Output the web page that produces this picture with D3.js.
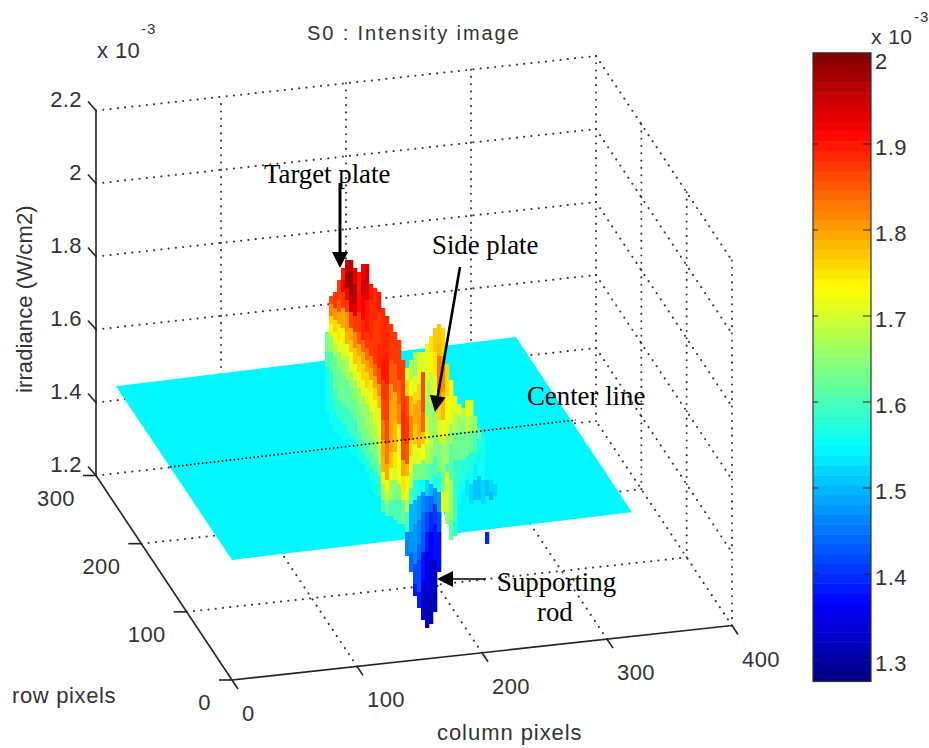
<!DOCTYPE html>
<html>
<head>
<meta charset="utf-8">
<script src="https://cdn.jsdelivr.net/npm/d3@7"></script>
<style>
body { margin: 0; background: #fff; }
text { font-family: "Liberation Sans", sans-serif; font-size: 22px; letter-spacing: 0.4px; fill: #333; }
.note { font-family: "Liberation Serif", serif; font-size: 26.8px; letter-spacing: 0; fill: #000; }
.sup { font-size: 15px; letter-spacing: 1px; }
</style>
</head>
<body>
<div id="chart"></div>
<script>
var colTicks = [0, 100, 200, 300, 400];
var rowTicks = [0, 100, 200, 300];
var zTicks = [1.2, 1.4, 1.6, 1.8, 2, 2.2];
var zTickLabels = ["1.2", "1.4", "1.6", "1.8", "2", "2.2"];
var barTicks = [1.3, 1.4, 1.5, 1.6, 1.7, 1.8, 1.9, 2];
var barLabels = ["1.3", "1.4", "1.5", "1.6", "1.7", "1.8", "1.9", "2"];

// flat background of the image, with the nick at the rod
var plateCols = [0, 167, 181, 176, 320, 320, 0];
var plateRows = [0, 0, 36, 0, 0, 256, 256];
var plateLevels = [1.529, 1.534, 1.535, 1.535, 1.54, 1.542, 1.527];
var plateShade = 1.545;

// target, side plate and rod, one strip per column of the photo.
// each pair is [sample index, irradiance], a strip ends on null
var ridgeStrips = [
  [[20,1.64],[25,1.6],[29,1.57],[33,1.55],[40,null]],
  [[11,1.86],[13,1.82],[16,1.76],[18,1.72],[21,1.66],[25,1.61],[30,1.58],[37,1.56],[43,null]],
  [[10,1.87],[14,1.81],[17,1.76],[20,1.72],[23,1.67],[26,1.62],[34,1.59],[40,1.56],[45,null]],
  [[7,1.88],[12,1.85],[15,1.8],[18,1.75],[22,1.71],[25,1.66],[29,1.62],[37,1.59],[42,1.56],[46,null]],
  [[4,1.9],[7,1.92],[10,1.87],[14,1.8],[19,1.74],[23,1.7],[27,1.65],[31,1.62],[38,1.59],[43,1.56],[47,null]],
  [[2,1.95],[5,1.98],[9,1.92],[12,1.87],[15,1.81],[20,1.78],[23,1.72],[26,1.67],[32,1.62],[39,1.59],[45,1.56],[48,null]],
  [[2,1.97],[5,1.99],[11,1.95],[15,1.86],[19,1.8],[22,1.77],[25,1.71],[30,1.66],[34,1.62],[40,1.59],[46,1.56],[50,null]],
  [[4,1.93],[8,1.97],[13,1.93],[16,1.88],[20,1.82],[24,1.77],[28,1.71],[32,1.66],[37,1.62],[42,1.59],[47,1.56],[51,null]],
  [[5,1.9],[10,1.91],[15,1.88],[20,1.85],[23,1.8],[26,1.76],[30,1.71],[34,1.66],[39,1.63],[45,1.6],[49,1.57],[52,null]],
  [[3,1.92],[7,1.96],[11,1.92],[17,1.89],[22,1.84],[25,1.8],[28,1.76],[32,1.71],[36,1.66],[41,1.63],[47,1.6],[50,1.57],[53,null]],
  [[3,1.94],[8,1.93],[12,1.9],[20,1.88],[24,1.84],[27,1.8],[30,1.76],[34,1.71],[38,1.66],[44,1.63],[48,1.6],[52,1.57],[55,null]],
  [[8,1.9],[12,1.89],[22,1.87],[26,1.83],[29,1.79],[32,1.75],[35,1.71],[40,1.67],[46,1.63],[50,1.6],[54,1.57],[57,null]],
  [[9,1.89],[17,1.88],[25,1.87],[28,1.84],[31,1.8],[34,1.76],[37,1.71],[43,1.67],[48,1.64],[52,1.6],[55,1.57],[60,null]],
  [[10,1.9],[15,1.88],[23,1.89],[29,1.86],[33,1.81],[36,1.77],[39,1.72],[46,1.69],[49,1.66],[53,1.62],[56,1.58],[61,null]],
  [[14,1.89],[27,1.9],[32,1.87],[37,1.86],[42,1.83],[47,1.8],[51,1.78],[55,1.72],[58,1.66],[62,1.6],[65,null]],
  [[16,1.89],[25,1.9],[33,1.88],[42,1.86],[48,1.83],[53,1.79],[57,1.74],[60,1.68],[63,1.62],[66,null]],
  [[18,1.88],[27,1.85],[33,1.81],[37,1.79],[50,1.77],[54,1.72],[57,1.66],[62,1.6],[66,null]],
  [[20,1.88],[28,1.85],[35,1.8],[42,1.78],[50,1.75],[54,1.7],[57,1.65],[62,1.6],[67,null]],
  [[22,1.87],[26,1.88],[32,1.84],[38,1.82],[43,1.74],[48,1.7],[51,1.73],[55,1.72],[58,1.64],[62,1.6],[68,null]],
  [[27,1.88],[33,1.87],[40,1.89],[47,1.86],[52,1.8],[56,1.75],[60,1.7],[62,1.62],[68,null]],
  [[29,1.72],[32,1.76],[36,1.86],[41,1.88],[48,1.85],[53,1.78],[56,1.74],[60,1.72],[62,1.68],[65,1.6],[70,1.46],[76,null]],
  [[27,1.68],[32,1.72],[36,1.78],[41,1.82],[47,1.76],[51,1.72],[55,1.68],[59,1.6],[63,1.5],[70,1.47],[75,1.44],[80,null]],
  [[25,1.66],[31,1.7],[35,1.76],[38,1.79],[43,1.77],[48,1.7],[53,1.64],[57,1.58],[62,1.5],[68,1.47],[75,1.46],[78,1.42],[83,1.38],[86,null]],
  [[25,1.7],[29,1.72],[33,1.76],[37,1.8],[46,1.78],[49,1.72],[53,1.63],[57,1.56],[61,1.49],[67,1.46],[73,1.44],[77,1.42],[85,1.38],[89,null]],
  [[25,1.7],[30,1.86],[40,1.84],[45,1.77],[48,1.73],[52,1.63],[57,1.55],[60,1.46],[65,1.44],[70,1.43],[75,1.37],[82,1.34],[92,null]],
  [[23,1.72],[32,1.68],[37,1.66],[41,1.7],[45,1.72],[48,1.68],[53,1.62],[57,1.52],[61,1.45],[65,1.42],[70,1.38],[75,1.35],[85,1.32],[94,null]],
  [[21,1.75],[25,1.74],[30,1.68],[38,1.66],[45,1.68],[49,1.66],[53,1.6],[58,1.5],[61,1.44],[65,1.4],[70,1.36],[77,1.34],[87,1.31],[93,null]],
  [[19,1.77],[25,1.75],[31,1.72],[36,1.66],[45,1.65],[51,1.6],[56,1.55],[59,1.46],[63,1.41],[68,1.37],[77,1.33],[85,1.31],[90,null]],
  [[18,1.77],[23,1.78],[26,1.83],[36,1.76],[42,1.7],[47,1.63],[55,1.58],[60,1.48],[65,1.42],[70,1.37],[80,null]],
  [[19,1.76],[26,1.82],[35,1.78],[42,1.72],[48,1.66],[55,1.62],[60,1.7],[65,null]],
  [[28,1.76],[36,1.74],[41,1.72],[46,1.66],[53,1.6],[55,1.7],[65,1.66],[68,null]],
  [[32,1.74],[38,1.72],[43,1.66],[48,1.61],[57,1.66],[67,1.62],[72,null]],
  [[36,1.72],[40,1.68],[45,1.63],[52,1.59],[62,1.6],[67,1.58],[71,null]],
  [[38,1.7],[41,1.66],[45,1.62],[52,1.58],[58,1.56],[63,null]],
  [[39,1.68],[42,1.65],[46,1.62],[52,1.58],[57,1.55],[60,null]],
  [[37,1.72],[41,1.68],[45,1.63],[51,1.58],[55,1.55],[57,1.53],[61,null]],
  [[37,1.72],[41,1.67],[45,1.62],[50,1.58],[55,1.55],[58,1.52],[63,null]],
  [[41,1.66],[45,1.6],[50,1.57],[53,1.54],[57,1.51],[62,null]],
  [[44,1.62],[47,1.58],[51,1.55],[56,1.51],[62,null]],
  [[46,1.57],[50,1.55],[57,1.52],[63,null]],
  [[57,1.51],[61,null],[70,1.4],[73,null]],
  [[57,1.52],[60,1.5],[62,null]],
  [[58,1.52],[61,null]]
];

var width = 929, height = 748;

var svg = d3.select("#chart").append("svg")
    .attr("width", width)
    .attr("height", height);

svg.append("defs").append("filter")
    .attr("id", "soft")
    .attr("x", "-5%").attr("y", "-5%").attr("width", "110%").attr("height", "110%")
    .append("feGaussianBlur")
    .attr("stdDeviation", 0.7);

// orthographic view of the box, each data axis pushes the point along the screen
var colX = d3.scaleLinear().domain([0, 400]).range([0, 500]);
var colY = d3.scaleLinear().domain([0, 400]).range([0, -54.5]);
var rowX = d3.scaleLinear().domain([0, 300]).range([0, -136]);
var rowY = d3.scaleLinear().domain([0, 300]).range([0, -204.5]);
var zY = d3.scaleLinear().domain([1.2, 2.2]).range([0, -365]);

function project(col, row, z) {
  return [232 + colX(col) + rowX(row), 680 + colY(col) + rowY(row) + zY(z)];
}

var line = d3.line();

// jet colormap, 64 steps like the bar
function jet(t) {
  var r = Math.max(0, Math.min(1, t < 0.875 ? (t - 0.375) / 0.25 : 1 - (t - 0.875) * 4));
  var g = Math.max(0, Math.min(1, t < 0.625 ? (t - 0.125) / 0.25 : (0.875 - t) / 0.25));
  var b = Math.max(0, Math.min(1, t < 0.375 ? 0.5 + t * 4 : (0.625 - t) / 0.25));
  return d3.rgb(r * 255, g * 255, b * 255).formatHex();
}
var jetColors = d3.range(64).map(function(i) { return jet((i + 0.5) / 64); });
var color = d3.scaleQuantize().domain([1.275, 2.006]).range(jetColors);

// box grid
var gridLines = [];
zTicks.slice(1).forEach(function(z) {
  gridLines.push([project(0, 300, z), project(400, 300, z)]);
  gridLines.push([project(400, 300, z), project(400, 0, z)]);
});
colTicks.slice(1).forEach(function(c) {
  gridLines.push([project(c, 300, 1.2), project(c, 300, 2.2)]);
  gridLines.push([project(c, 0, 1.2), project(c, 300, 1.2)]);
});
rowTicks.slice(0, 3).forEach(function(r) {
  gridLines.push([project(400, r, 1.2), project(400, r, 2.2)]);
});
rowTicks.slice(1).forEach(function(r) {
  gridLines.push([project(0, r, 1.2), project(400, r, 1.2)]);
});

svg.append("g").selectAll("path")
    .data(gridLines)
    .join("path")
    .attr("d", line)
    .attr("fill", "none")
    .attr("stroke", "#333")
    .attr("stroke-width", 2)
    .attr("stroke-linecap", "round")
    .attr("stroke-dasharray", "0.1 7.2");

// solid axes
var axisLines = [
  [project(0, 300, 1.2), project(0, 300, 2.2)],
  [project(0, 300, 1.2), project(0, 0, 1.2)],
  [project(0, 0, 1.2), project(400, 0, 1.2)]
];
zTicks.forEach(function(z) {
  var p = project(0, 300, z);
  axisLines.push([p, [p[0] - 8, p[1] - 9]]);
});
rowTicks.forEach(function(r) {
  var p = project(0, r, 1.2);
  axisLines.push([p, [p[0] - 13, p[1]]]);
});
colTicks.forEach(function(c) {
  var p = project(c, 0, 1.2);
  axisLines.push([p, [p[0] + 6, p[1] + 9]]);
});
svg.append("g").selectAll("path")
    .data(axisLines)
    .join("path")
    .attr("d", line)
    .attr("fill", "none")
    .attr("stroke", "#222")
    .attr("stroke-width", 1.6);

svg.append("g").selectAll("text")
    .data(zTicks)
    .join("text")
    .attr("x", 82)
    .attr("y", function(d) { return project(0, 300, d)[1] - 4; })
    .attr("text-anchor", "end")
    .text(function(d, i) { return zTickLabels[i]; });

svg.append("g").selectAll("text")
    .data(rowTicks)
    .join("text")
    .attr("x", function(d) { return project(0, d, 1.2)[0] - 21; })
    .attr("y", function(d) { return project(0, d, 1.2)[1] + 30; })
    .attr("text-anchor", "end")
    .text(function(d) { return d; });

svg.append("g").selectAll("text")
    .data(colTicks)
    .join("text")
    .attr("x", function(d) { return project(d, 0, 1.2)[0] + 10; })
    .attr("y", function(d) { return project(d, 0, 1.2)[1] + 41; })
    .text(function(d) { return d; });

// flat part of the surface
svg.append("path")
    .attr("d", line(plateCols.map(function(c, i) { return project(c, plateRows[i], plateLevels[i]); })) + "Z")
    .attr("fill", color(plateShade));

// the object in the middle
var stripX = d3.scaleBand().domain(d3.range(ridgeStrips.length)).range([325, 325 + 4 * ridgeStrips.length]);
var stripY = d3.scaleLinear().domain([0, 95]).range([252, 632]);

var strips = svg.append("g")
    .attr("filter", "url(#soft)")
    .selectAll("g")
    .data(ridgeStrips)
    .join("g")
    .attr("transform", function(d, i) { return "translate(" + stripX(i) + ",0)"; });

strips.selectAll("rect")
    .data(function(d) {
      return d.slice(0, -1).map(function(p, i) { return { start: p[0], end: d[i + 1][0], value: p[1] }; })
        .filter(function(s) { return s.value !== null; });
    })
    .join("rect")
    .attr("y", function(s) { return stripY(s.start); })
    .attr("width", stripX.bandwidth() + 0.3)
    .attr("height", function(s) { return stripY(s.end) - stripY(s.start); })
    .attr("fill", function(s) { return color(s.value); });

// colorbar
var barY = d3.scaleLinear().domain([1.3, 2]).range([660, 58]);
var barLeft = 813, barRight = 871;
var barBand = (2.006 - 1.275) / 64;

svg.append("g").selectAll("rect")
    .data(jetColors)
    .join("rect")
    .attr("x", barLeft)
    .attr("y", function(d, i) { return barY(1.275 + (i + 1) * barBand); })
    .attr("width", barRight - barLeft)
    .attr("height", function(d, i) { return barY(1.275 + i * barBand) - barY(1.275 + (i + 1) * barBand) + 0.5; })
    .attr("fill", function(d) { return d; });

svg.append("rect")
    .attr("x", barLeft)
    .attr("y", barY(2.006))
    .attr("width", barRight - barLeft)
    .attr("height", barY(1.275) - barY(2.006))
    .attr("fill", "none")
    .attr("stroke", "#333")
    .attr("stroke-width", 1.2);

var barTickG = svg.append("g").selectAll("g")
    .data(barTicks)
    .join("g")
    .attr("transform", function(d) { return "translate(0," + barY(d) + ")"; });

barTickG.append("path")
    .attr("d", "M" + barLeft + ",0h5M" + barRight + ",0h-8")
    .attr("stroke", "#222")
    .attr("fill", "none");

barTickG.append("text")
    .attr("x", 875)
    .attr("y", 11)
    .text(function(d, i) { return barLabels[i]; });

// titles and labels
svg.append("text").attr("x", 307).attr("y", 40).attr("textLength", 212).style("font-size", "20px").text("S0 : Intensity image");
svg.append("text").attr("x", 97).attr("y", 58).text("x 10");
svg.append("text").attr("class", "sup").attr("x", 141).attr("y", 34).text("-3");
svg.append("text").attr("x", 871).attr("y", 44).style("font-size", "21px").text("x 10");
svg.append("text").attr("class", "sup").attr("x", 914).attr("y", 22).text("-3");
svg.append("text").attr("x", 12).attr("y", 703).attr("textLength", 104).text("row pixels");
svg.append("text").attr("x", 437).attr("y", 740).attr("textLength", 145).text("column pixels");
svg.append("text").attr("transform", "translate(32,393) rotate(-90)").attr("textLength", 188).text("irradiance (W/cm2)");

// center line and the notes
svg.append("path")
    .attr("d", line([[170, 467], [576, 420]]))
    .attr("stroke", "#000")
    .attr("stroke-width", 1.6)
    .attr("stroke-dasharray", "1.6 2.4")
    .attr("fill", "none");

var notes = [
  { text: "Target plate", x: 264, y: 183 },
  { text: "Side plate", x: 432, y: 254 },
  { text: "Center line", x: 527, y: 405 },
  { text: "Supporting", x: 497, y: 591 },
  { text: "rod", x: 537, y: 621 }
];
svg.append("g").selectAll("text")
    .data(notes)
    .join("text")
    .attr("class", "note")
    .attr("x", function(d) { return d.x; })
    .attr("y", function(d) { return d.y; })
    .text(function(d) { return d.text; });

var arrows = [
  { from: [340, 183], to: [340, 268], w: 3 },
  { from: [460, 267], to: [435, 412], w: 2.6 },
  { from: [486, 579], to: [437, 579], w: 1.6 }
];
arrows.forEach(function(a) {
  var dx = a.to[0] - a.from[0], dy = a.to[1] - a.from[1];
  var len = Math.sqrt(dx * dx + dy * dy);
  var ux = dx / len, uy = dy / len;
  var bx = a.to[0] - ux * 16, by = a.to[1] - uy * 16;
  svg.append("path")
      .attr("d", line([a.from, [bx, by]]))
      .attr("stroke", "#000")
      .attr("stroke-width", a.w);
  svg.append("path")
      .attr("d", line([a.to, [bx - uy * 8, by + ux * 8], [bx + uy * 8, by - ux * 8]]) + "Z")
      .attr("fill", "#000");
});
</script>
</body>
</html>
